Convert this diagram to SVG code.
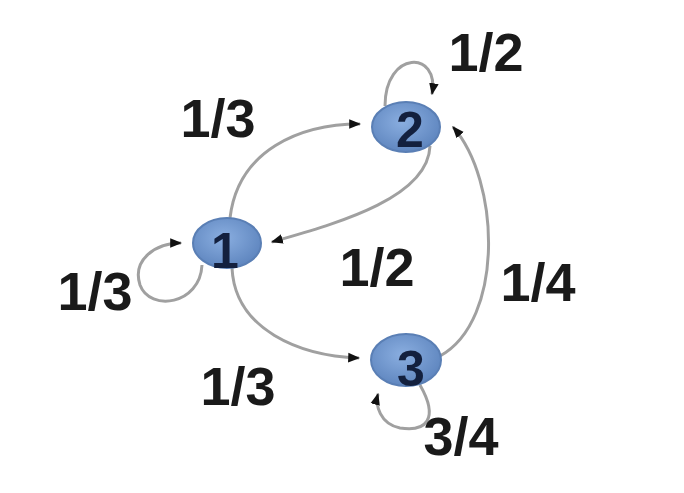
<svg xmlns="http://www.w3.org/2000/svg" width="684" height="493" viewBox="0 0 684 493">
<style>
.edge{fill:none;stroke:#a0a0a0;stroke-width:3;marker-end:url(#arr)}
.node{fill:url(#ng);stroke:#5a7fb5;stroke-width:2}
.nl{font-family:"Liberation Sans",Arial,sans-serif;font-weight:bold;font-size:50px;fill:#13203e;text-anchor:middle}
.el{font-family:"Liberation Sans",Arial,sans-serif;font-weight:bold;font-size:54px;fill:#1a1a1a;text-anchor:middle}
</style>
<defs>
<radialGradient id="ng" cx="0.45" cy="0.4" r="0.6">
<stop offset="0" stop-color="#8aaee0"/>
<stop offset="1" stop-color="#5f86bf"/>
</radialGradient>
<marker id="arr" viewBox="0 0 10 10" refX="9" refY="5" markerWidth="4" markerHeight="4" orient="auto" markerUnits="strokeWidth">
<path d="M0,1 L10,5 L0,9 z" fill="#111"/>
</marker>
</defs>
<rect width="684" height="493" fill="#fff"/>
<g id="connectors">
<path class="edge" d="M230,218 C238,150 300,124 360,124"/>
<path class="edge" d="M430,146 C428,200 330,225 272,242"/>
<path class="edge" d="M385,106 C385,50 440,50 432,94"/>
<path class="edge" d="M440,356 C505,320 500,180 453,127"/>
<path class="edge" d="M232,268 C235,330 300,356 359,358"/>
<path class="edge" d="M202,265 C200,305 150,312 140,285 C132,260 155,243 181,243"/>
<path class="edge" d="M420,385 C440,420 425,432 400,428 C380,424 375,405 378,394"/>
</g>
<g id="node1">
<ellipse class="node" cx="227" cy="243" rx="34" ry="25"/>
<text class="nl" x="225" y="268">1</text>
</g>
<g id="node2">
<ellipse class="node" cx="406" cy="127" rx="34" ry="25"/>
<text class="nl" x="410" y="147">2</text>
</g>
<g id="node3">
<ellipse class="node" cx="406" cy="360" rx="35" ry="26"/>
<text class="nl" x="411" y="386">3</text>
</g>
<g id="labels">
<text class="el" x="218" y="137">1/3</text>
<text class="el" x="486" y="71">1/2</text>
<text class="el" x="95" y="310">1/3</text>
<text class="el" x="377" y="286">1/2</text>
<text class="el" x="538" y="301">1/4</text>
<text class="el" x="238" y="405">1/3</text>
<text class="el" x="461" y="455">3/4</text>
</g>
</svg>
